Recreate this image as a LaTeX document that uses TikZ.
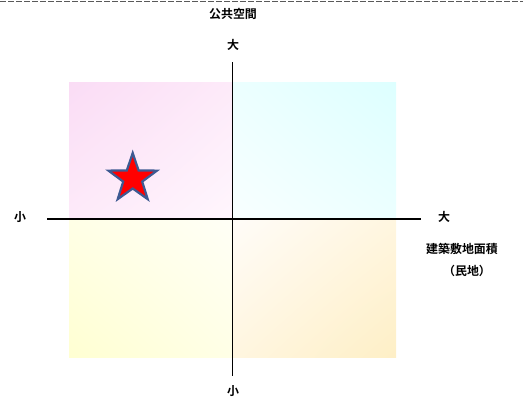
\documentclass[tikz,border=0pt]{standalone}
\usepackage{fontspec}
\newfontfamily\jpfont{Noto Sans CJK JP}[BoldFont={Noto Sans CJK JP Bold}]
\usetikzlibrary{shapes.geometric,shadings}
\definecolor{pinkA}{HTML}{FADCF5}
\definecolor{pinkB}{HTML}{FFF6FD}
\definecolor{pinkM}{HTML}{FDEAF9}
\definecolor{cyanA}{HTML}{DDFFFF}
\definecolor{cyanB}{HTML}{F8FFFF}
\definecolor{cyanM}{HTML}{ECFFFF}
\definecolor{yelA}{HTML}{FFFFD2}
\definecolor{yelB}{HTML}{FFFFF6}
\definecolor{yelM}{HTML}{FFFFE6}
\definecolor{orA}{HTML}{FEEFC6}
\definecolor{orB}{HTML}{FFFCF8}
\definecolor{orM}{HTML}{FFF6E0}
\definecolor{starblue}{HTML}{3E5A92}
\begin{document}
\begin{tikzpicture}[x=1bp,y=-1bp,
  lbl/.style={font=\jpfont\bfseries\fontsize{12}{14}\selectfont, inner sep=0pt, text=black},
  axisline/.style={line width=1.2bp, black}]
\useasboundingbox (0,0) rectangle (523,403);
% top dashed line
\coordinate (dl) at (0,1);
\coordinate (dr) at (523,1);
\draw[gray!70!black, line width=0.8bp, dash pattern=on 6bp off 2bp] (dl) -- (dr);
% quadrants
\shade[upper left=pinkA, lower right=pinkB, upper right=pinkM, lower left=pinkM] (69,82) rectangle (232,219);
\shade[upper right=cyanA, lower left=cyanB, upper left=cyanM, lower right=cyanM] (232,82) rectangle (396,219);
\shade[lower left=yelA, upper right=yelB, upper left=yelM, lower right=yelM] (69,219) rectangle (232,357);
\shade[lower right=orA, upper left=orB, upper right=orM, lower left=orM] (232,219) rectangle (396,357);
% axes
\coordinate (vt) at (232.5,62);
\coordinate (vb) at (232.5,376);
\coordinate (hl) at (47,219);
\coordinate (hr) at (421,219);
\draw[axisline] (vt) -- (vb);
\draw[axisline] (hl) -- (hr);
% star
\node[star, star points=5, star point ratio=2.55, minimum size=51bp, inner sep=0pt,
  fill=red, draw=starblue, line width=2.2bp] (star) at (132.7,178.5) {};
% labels
\node[lbl] (title) at (233,14) {公共空間};
\node[lbl] (top) at (233,45) {大};
\node[lbl] (left) at (20,217) {小};
\node[lbl] (right) at (444,217) {大};
\node[lbl] (xlab1) at (462,249) {建築敷地面積};
\node[lbl] (xlab2) at (467,271) {（民地）};
\node[lbl] (bottom) at (233,391) {小};
\end{tikzpicture}
\end{document}
